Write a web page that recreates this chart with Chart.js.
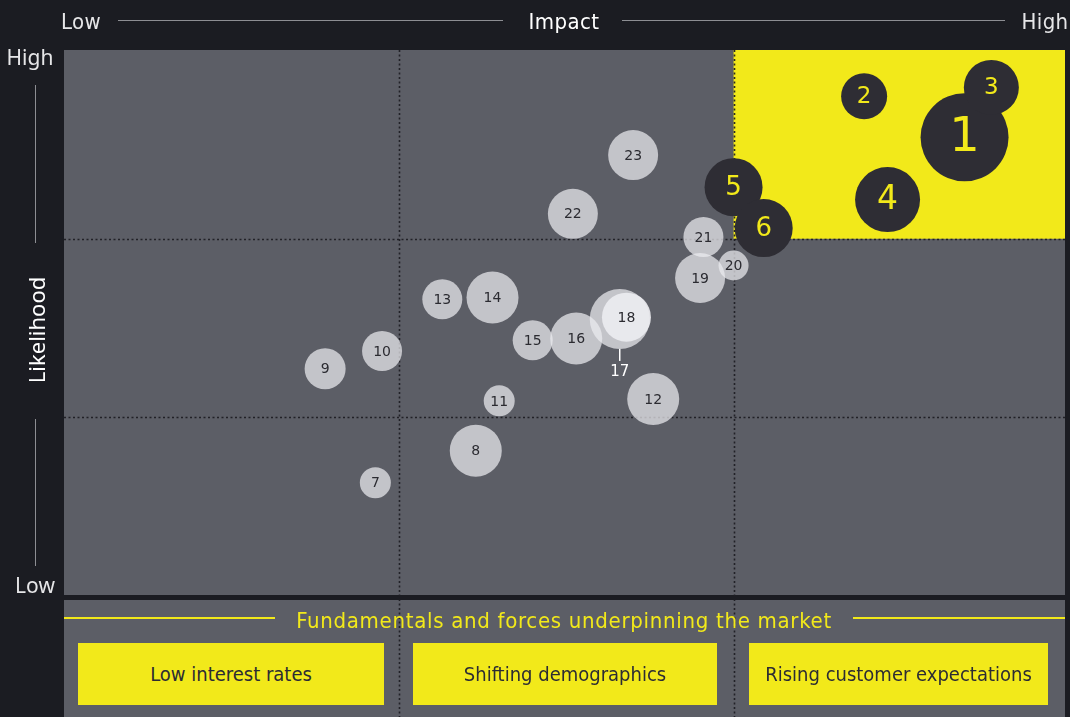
<!DOCTYPE html>
<html>
<head>
<meta charset="utf-8">
<title>Risk radar</title>
<script src="https://cdn.jsdelivr.net/npm/chart.js@4/dist/chart.umd.min.js"></script>
<style>
  body { margin: 0; background: #1b1c22; }
  #wrap { position: relative; width: 1070px; height: 717px; overflow: hidden;
          font-family: "DejaVu Sans Condensed", "DejaVu Sans", sans-serif; font-stretch: condensed; }
  #chart { position: absolute; left: 0; top: 0; }
  .t { position: absolute; white-space: nowrap; transform: translate(-50%, -50%); }
  .ln { position: absolute; }
  .box { position: absolute; top: 643px; height: 62px; background: #f2e91a; color: #2c2c33;
         font-size: 20px; display: flex; align-items: center; justify-content: center; }
</style>
</head>
<body>
<div id="wrap">
  <canvas id="chart" width="1070" height="717"></canvas>
</div>
<script>
// risk ids, impact (x, 0-3), likelihood (y, 0-3) and bubble size in px
const riskIds = ["1", "2", "3", "4", "5", "6", "7", "8", "9", "10", "11", "12",
                 "13", "14", "15", "16", "17", "18", "19", "20", "21", "22", "23"];
const impact = [2.69, 2.39, 2.77, 2.46, 2.00, 2.09, 0.93, 1.23, 0.78, 0.95, 1.30, 1.76,
                1.13, 1.28, 1.40, 1.53, 1.66, 1.68, 1.90, 2.00, 1.91, 1.52, 1.70];
const likelihood = [2.57, 2.80, 2.85, 2.22, 2.29, 2.06, 0.63, 0.81, 1.27, 1.37, 1.09, 1.10,
                    1.66, 1.67, 1.43, 1.44, 1.55, 1.56, 1.78, 1.85, 2.01, 2.14, 2.47];
const bubbleSize = [44, 23, 27.5, 32.5, 29, 29, 15.5, 26, 20.5, 20, 15.5, 26,
                    20, 26, 20, 26, 30, 24.5, 25, 15, 20, 25, 25];
const topRisks = ["1", "2", "3", "4", "5", "6"];
const highlighted = ["18"];
const calloutRisks = ["17"];

const impactLabels = ["Low", "Impact", "High"];
const likelihoodLabels = ["High", "Likelihood", "Low"];
const forcesTitle = "Fundamentals and forces underpinning the market";
const forces = ["Low interest rates", "Shifting demographics", "Rising customer expectations"];

const YELLOW = "#f2e91a";
const DARK = "#2e2d34";
const PLOT_BG = "#5c5e66";

const wrap = document.getElementById("wrap");
function addText(txt, x, y, css) {
    const d = document.createElement("div");
    d.className = "t";
    d.textContent = txt;
    d.style.left = x + "px";
    d.style.top = y + "px";
    Object.assign(d.style, css || {});
    wrap.appendChild(d);
    return d;
}
function addLine(x, y, w, h, color) {
    const d = document.createElement("div");
    d.className = "ln";
    Object.assign(d.style, { left: x + "px", top: y + "px", width: w + "px", height: h + "px", background: color });
    wrap.appendChild(d);
}

// top axis title
const topFont = { color: "#e6e6e8", fontSize: "22px", letterSpacing: "0.4px" };
addText(impactLabels[0], 81, 21, topFont);
addText(impactLabels[1], 564, 21, Object.assign({}, topFont, { color: "#ffffff" }));
addText(impactLabels[2], 1045, 21, topFont);
addLine(118, 20, 385, 1, "#8d8e93");
addLine(622, 20, 383, 1, "#8d8e93");

// left axis title
const sideFont = { color: "#e6e6e8", fontSize: "21px", fontFamily: "'Noto Sans', sans-serif", fontStretch: "normal" };
addText(likelihoodLabels[0], 30, 57, sideFont);
addText(likelihoodLabels[1], 36, 330, Object.assign({}, sideFont, { color: "#ffffff", fontSize: "22px", transform: "translate(-50%, -50%) rotate(-90deg)" }));
addText(likelihoodLabels[2], 35, 585, sideFont);
addLine(35, 85, 1, 158, "#8d8e93");
addLine(35, 419, 1, 147, "#8d8e93");

// bottom panel: title + boxes
addText(forcesTitle, 564, 620, { color: YELLOW, fontSize: "22px", letterSpacing: "0.7px" });
addLine(64, 617, 211, 2, YELLOW);
addLine(853, 617, 212, 2, YELLOW);
const boxX = [[78, 306], [413, 304], [749, 299]];
forces.forEach((f, i) => {
    const b = document.createElement("div");
    b.className = "box";
    b.style.left = boxX[i][0] + "px";
    b.style.width = boxX[i][1] + "px";
    b.textContent = f;
    wrap.appendChild(b);
});

const points = riskIds.map((id, i) => ({ x: impact[i], y: likelihood[i], r: bubbleSize[i], id: id }));

const backdrop = {
    id: "backdrop",
    beforeDatasetsDraw(chart) {
        const { ctx, chartArea: a, scales: { x, y } } = chart;
        ctx.save();
        ctx.fillStyle = PLOT_BG;
        ctx.fillRect(a.left, a.top, a.right - a.left, a.bottom - a.top);
        ctx.fillRect(a.left, 600, a.right - a.left, chart.height - 600);
        ctx.fillStyle = YELLOW;
        const x2 = x.getPixelForValue(2), y2 = y.getPixelForValue(2);
        ctx.fillRect(x2, a.top, a.right - x2, y2 - a.top);
        ctx.strokeStyle = "rgba(30,30,36,0.95)";
        ctx.lineWidth = 1.6;
        ctx.setLineDash([2, 2.5]);
        [1, 2].forEach(v => {
            const px = Math.round(x.getPixelForValue(v)) + 0.5;
            ctx.beginPath();
            ctx.moveTo(px, a.top);
            ctx.lineTo(px, chart.height);
            ctx.stroke();
            const py = Math.round(y.getPixelForValue(v)) + 0.5;
            ctx.beginPath();
            ctx.moveTo(a.left, py);
            ctx.lineTo(a.right, py);
            ctx.stroke();
        });
        ctx.restore();
    }
};

const darkLabelSize = { "1": 48, "2": 23, "3": 23, "4": 33, "5": 26, "6": 26 };

const bubbleLabels = {
    id: "bubbleLabels",
    afterDatasetsDraw(chart) {
        const ctx = chart.ctx;
        const meta = chart.getDatasetMeta(0);
        ctx.save();
        ctx.textAlign = "center";
        ctx.textBaseline = "middle";
        meta.data.forEach((el, i) => {
            const p = points[i];
            if (calloutRisks.includes(p.id)) {
                ctx.strokeStyle = "#ffffff";
                ctx.lineWidth = 1.5;
                ctx.beginPath();
                ctx.moveTo(el.x, el.y + p.r);
                ctx.lineTo(el.x, el.y + p.r + 12);
                ctx.stroke();
                ctx.fillStyle = "#ffffff";
                ctx.font = "15px 'DejaVu Sans'";
                ctx.fillText(p.id, el.x, el.y + p.r + 23);
                return;
            }
            if (topRisks.includes(p.id)) {
                ctx.fillStyle = YELLOW;
                ctx.font = darkLabelSize[p.id] + "px 'DejaVu Sans'";
            } else {
                ctx.fillStyle = "#2b2b31";
                ctx.font = "14px 'DejaVu Sans'";
            }
            ctx.fillText(p.id, el.x, el.y + 1);
        });
        ctx.restore();
    }
};

new Chart(document.getElementById("chart"), {
    type: "bubble",
    data: {
        datasets: [
            {
                label: "risks",
                data: points,
                borderWidth: 0,
                backgroundColor: (c) => {
                    const id = riskIds[c.dataIndex];
                    if (topRisks.includes(id)) return DARK;
                    if (highlighted.includes(id)) return "rgba(236,236,240,0.92)";
                    return "rgba(236,236,240,0.72)";
                },
            },
        ],
    },
    options: {
        responsive: false,
        animation: false,
        devicePixelRatio: 1,
        layout: { autoPadding: false, padding: { left: 64, right: 5, top: 50, bottom: 122 } },
        plugins: { legend: { display: false }, tooltip: { enabled: false } },
        scales: {
            x: { type: "linear", min: 0, max: 2.99, display: false },
            y: { type: "linear", min: 0, max: 3.06, display: false },
        },
    },
    plugins: [backdrop, bubbleLabels],
});
</script>
</body>
</html>
